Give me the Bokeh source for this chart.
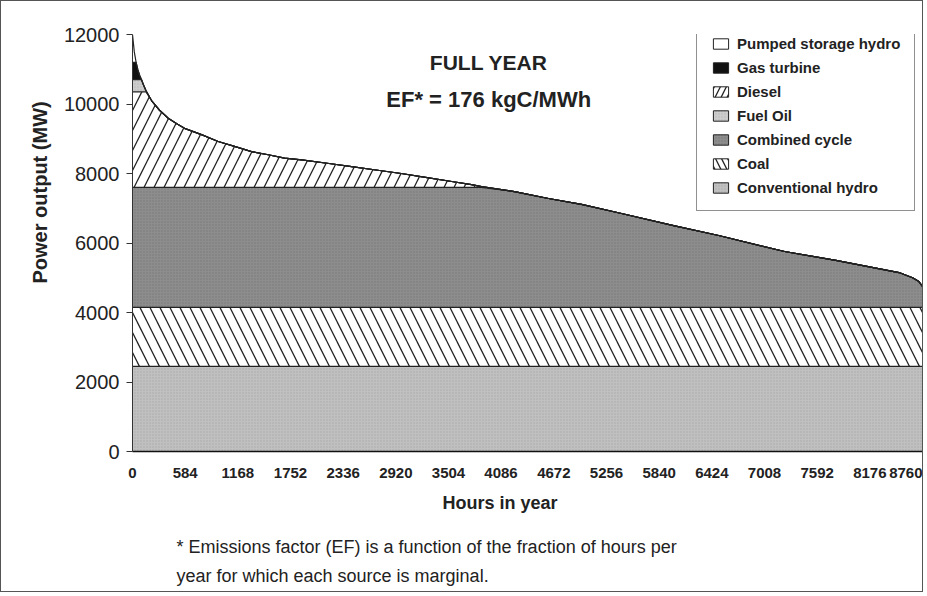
from bokeh.plotting import figure
from bokeh.models import (ColumnDataSource, FixedTicker, Legend, LegendItem, Label,
                          Range1d, Title)
from bokeh.transform import stack
from bokeh.embed import file_html
from bokeh.resources import INLINE

# ---- data (MW stacked by source vs hours in year) ----
hours = [0, 20, 40, 60, 80, 100, 120, 150, 211, 300, 396, 500, 577, 765, 950,
         1131, 1320, 1505, 1686, 1874, 2200, 2430, 2700, 2980, 3250, 3540, 3760,
         3870, 4236, 4613, 4979, 5423, 6000, 6500, 7231, 7800, 8200, 8500, 8650,
         8720, 8760]

conventional_hydro = [2450, 2450, 2450, 2450, 2450, 2450, 2450, 2450, 2450, 2450,
                      2450, 2450, 2450, 2450, 2450, 2450, 2450, 2450, 2450, 2450,
                      2450, 2450, 2450, 2450, 2450, 2450, 2450, 2450, 2450, 2450,
                      2450, 2450, 2450, 2450, 2450, 2450, 2450, 2450, 2450, 2450,
                      2450]
coal = [1700, 1700, 1700, 1700, 1700, 1700, 1700, 1700, 1700, 1700,
        1700, 1700, 1700, 1700, 1700, 1700, 1700, 1700, 1700, 1700,
        1700, 1700, 1700, 1700, 1700, 1700, 1700, 1700, 1700, 1700,
        1700, 1700, 1700, 1700, 1700, 1700, 1700, 1700, 1700, 1700,
        1700]
combined_cycle = [3450, 3450, 3450, 3450, 3450, 3450, 3450, 3450, 3450, 3450,
                  3450, 3450, 3450, 3450, 3450, 3450, 3450, 3450, 3450, 3450,
                  3450, 3450, 3450, 3450, 3450, 3450, 3450, 3450, 3330, 3130,
                  2960, 2700, 2350, 2065, 1605, 1350, 1150, 1000, 850, 740,
                  600]
diesel = [2750, 2750, 2750, 2750, 2750, 2750, 2750, 2750, 2500, 2220,
          1990, 1820, 1700, 1520, 1320, 1180, 1030, 940, 840, 790,
          680, 600, 500, 400, 290, 170, 80, 20, 0, 0,
          0, 0, 0, 0, 0, 0, 0, 0, 0, 0,
          0]
fuel_oil = [350, 350, 350, 350, 350, 350, 210, 30, 0, 0,
            0, 0, 0, 0, 0, 0, 0, 0, 0, 0,
            0, 0, 0, 0, 0, 0, 0, 0, 0, 0,
            0, 0, 0, 0, 0, 0, 0, 0, 0, 0,
            0]
gas_turbine = [500, 500, 500, 280, 120, 0, 0, 0, 0, 0,
               0, 0, 0, 0, 0, 0, 0, 0, 0, 0,
               0, 0, 0, 0, 0, 0, 0, 0, 0, 0,
               0, 0, 0, 0, 0, 0, 0, 0, 0, 0,
               0]
pumped_storage = [800, 300, 0, 0, 0, 0, 0, 0, 0, 0,
                  0, 0, 0, 0, 0, 0, 0, 0, 0, 0,
                  0, 0, 0, 0, 0, 0, 0, 0, 0, 0,
                  0, 0, 0, 0, 0, 0, 0, 0, 0, 0,
                  0]

x_ticks = [0, 584, 1168, 1752, 2336, 2920, 3504, 4086, 4672, 5256, 5840, 6424,
           7008, 7592, 8176, 8760]
y_ticks = [0, 2000, 4000, 6000, 8000, 10000, 12000]

title_1 = "FULL YEAR"
title_2 = "EF* = 176 kgC/MWh"
y_title = "Power output (MW)"
x_title = "Hours in year"
footnote_1 = "* Emissions factor (EF) is a function of the fraction of hours per"
footnote_2 = "year for which each source is marginal."

source = ColumnDataSource(dict(
    hours=hours, hydro=conventional_hydro, coal=coal, cc=combined_cycle,
    diesel=diesel, fuel=fuel_oil, gas=gas_turbine, pumped=pumped_storage))

FONT = "Liberation Sans"
INK = "#222222"

p = figure(width=923, height=592, output_backend="svg", toolbar_location=None,
           x_range=Range1d(0, 8760), y_range=Range1d(0, 12000))
p.min_border_left = 131
p.min_border_right = 2
p.min_border_top = 33
p.min_border_bottom = 142
p.outline_line_color = None
p.xgrid.grid_line_color = None
p.ygrid.grid_line_color = None
p.background_fill_color = "white"
p.border_fill_color = "white"
p.styles = {"border": "1px solid #555"}

# layer styles: (name, label, fill, hatch pattern, hatch scale, hatch colour)
layers = [
    ("hydro", "Conventional hydro", "#c0c0c0", "dot", 3, "#a9a9a9"),
    ("coal", "Coal", "white", "left_diagonal_line", 20, INK),
    ("cc", "Combined cycle", "#8d8d8d", "dot", 3, "#787878"),
    ("diesel", "Diesel", "white", "right_diagonal_line", 20, INK),
    ("fuel", "Fuel Oil", "#cdcdcd", "dot", 3, "#b5b5b5"),
    ("gas", "Gas turbine", "#111111", None, 1, "#111111"),
    ("pumped", "Pumped storage hydro", "white", None, 1, INK),
]

names = [l[0] for l in layers]
legend_renderers = {}
nan = float("nan")
for i, (name, label, fill, hatch, hscale, hcolor) in enumerate(layers):
    upper = stack(*names[:i + 1])
    kw = dict(fill_color=fill)
    if hatch:
        kw.update(hatch_pattern=hatch, hatch_scale=hscale, hatch_color=hcolor,
                  hatch_weight=1.3 if "line" in hatch else 1.0)
    if i > 0:
        p.varea(x="hours", y1=stack(*names[:i]), y2=upper, source=source, **kw)
    else:
        p.varea(x="hours", y1=0, y2=upper, source=source, **kw)
    # legend swatch: an undrawn (NaN) quad that carries the outlined style
    dummy = ColumnDataSource(dict(l=[nan], r=[nan], b=[nan], t=[nan]))
    qkw = dict(fill_color=fill, line_color=INK, line_width=1)
    if hatch:
        qkw.update(hatch_pattern=hatch, hatch_scale=(12 if "line" in hatch else hscale),
                   hatch_color=hcolor, hatch_weight=1.3 if "line" in hatch else 1.0)
    legend_renderers[name] = p.quad(left="l", right="r", bottom="b", top="t",
                                    source=dummy, **qkw)

# outlines on top of each layer
for i in range(len(names)):
    p.line(x="hours", y=stack(*names[:i + 1]), source=source,
           line_color=INK, line_width=1.2)

# axes
p.xaxis.ticker = FixedTicker(ticks=x_ticks)
p.yaxis.ticker = FixedTicker(ticks=y_ticks)
p.xaxis.major_tick_line_color = None
p.xaxis.minor_tick_line_color = None
p.xaxis.axis_line_color = "#111111"
p.xaxis.axis_line_width = 1.5
p.xaxis.major_label_text_font = FONT
p.xaxis.major_label_text_font_style = "bold"
p.xaxis.major_label_text_font_size = "15px"
p.xaxis.major_label_text_color = INK
p.xaxis.major_label_standoff = 10

p.yaxis.axis_line_color = "#333333"
p.yaxis.minor_tick_line_color = None
p.yaxis.major_tick_out = 6
p.yaxis.major_tick_in = 0
p.yaxis.major_tick_line_color = "#333333"
p.yaxis.major_label_text_font = FONT
p.yaxis.major_label_text_font_size = "20px"
p.yaxis.major_label_text_color = INK
p.yaxis.major_label_standoff = 7

# y axis title, set higher than the frame centre as in the reference
p.add_layout(Title(text=y_title, align="left", offset=168, standoff=20,
                   text_font=FONT, text_font_style="bold",
                   text_font_size="20px", text_color=INK), "left")

# x axis title and footnote below the axis
p.add_layout(Title(text=x_title, align="left", offset=310, standoff=20,
                   text_font=FONT, text_font_style="bold",
                   text_font_size="18px", text_color=INK), "below")
p.add_layout(Title(text=footnote_1, align="left", offset=44, standoff=24,
                   text_font=FONT, text_font_style="normal",
                   text_font_size="18px", text_color=INK), "below")
p.add_layout(Title(text=footnote_2, align="left", offset=44, standoff=-9,
                   text_font=FONT, text_font_style="normal",
                   text_font_size="18px", text_color=INK), "below")

# titles in the plot
p.add_layout(Label(x=3950, y=11200, text=title_1, text_align="center",
                   text_baseline="middle", text_font=FONT,
                   text_font_style="bold", text_font_size="21px",
                   text_color=INK))
p.add_layout(Label(x=3950, y=10130, text=title_2, text_align="center",
                   text_baseline="middle", text_font=FONT,
                   text_font_style="bold", text_font_size="22px",
                   text_color=INK))

# legend (order as in the reference)
order = ["pumped", "gas", "diesel", "fuel", "cc", "coal", "hydro"]
labels = {l[0]: l[1] for l in layers}
legend = Legend(items=[LegendItem(label=labels[n], renderers=[legend_renderers[n]])
                       for n in order],
                location=(564, 240))
legend.label_text_font = FONT
legend.label_text_font_style = "bold"
legend.label_text_font_size = "15px"
legend.label_text_color = INK
legend.label_height = 17
legend.glyph_height = 13
legend.glyph_width = 19
legend.label_standoff = 7
legend.spacing = 7
legend.padding = 14
legend.margin = 0
legend.border_line_color = INK
legend.border_line_width = 1
legend.background_fill_color = "white"
legend.background_fill_alpha = 1
p.add_layout(legend, "center")

open("out.html", "w").write(file_html(p, INLINE))
